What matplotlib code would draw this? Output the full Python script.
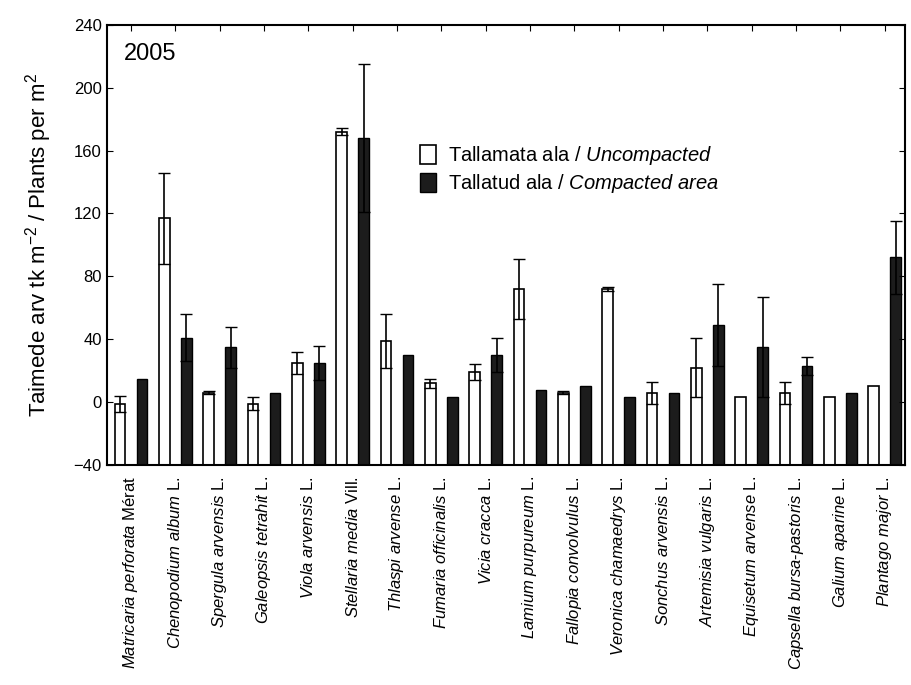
import matplotlib.pyplot as plt
import numpy as np

plt.rcParams['font.family'] = ['Liberation Sans', 'DejaVu Sans']
plt.rcParams['mathtext.fontset'] = 'custom'
plt.rcParams['mathtext.it'] = 'Liberation Sans:italic'
plt.rcParams['mathtext.rm'] = 'Liberation Sans'

# species names (italic part, authority)
species = [
    ("Matricaria perforata", "Mérat"),
    ("Chenopodium album", "L."),
    ("Spergula arvensis", "L."),
    ("Galeopsis tetrahit", "L."),
    ("Viola arvensis", "L."),
    ("Stellaria media", "Vill."),
    ("Thlaspi arvense", "L."),
    ("Fumaria officinalis", "L."),
    ("Vicia cracca", "L."),
    ("Lamium purpureum", "L."),
    ("Fallopia convolvulus", "L."),
    ("Veronica chamaedrys", "L."),
    ("Sonchus arvensis", "L."),
    ("Artemisia vulgaris", "L."),
    ("Equisetum arvense", "L."),
    ("Capsella bursa-pastoris", "L."),
    ("Galium aparine", "L."),
    ("Plantago major", "L."),
]

# plants per m2, uncompacted / compacted, with error values
uncompacted = [-1, 117, 6, -1, 25, 172, 39, 12, 19, 72, 6, 72, 6, 22, 3, 6, 3, 10]
uncompacted_err = [5, 29, 1, 4, 7, 2, 17, 3, 5, 19, 1, 1, 7, 19, 0, 7, 0, 0]
compacted = [15, 41, 35, 6, 25, 168, 30, 3, 30, 8, 10, 3, 6, 49, 35, 23, 6, 92]
compacted_err = [0, 15, 13, 0, 11, 47, 0, 0, 11, 0, 0, 0, 0, 26, 32, 6, 0, 23]

base = -40
x = np.arange(len(species))
off = 0.25
w = 0.24


def italic(s):
    # italic mathtext, keep hyphen as plain text
    parts = [r"$\it{" + p.replace(" ", r"\ ") + "}$" for p in s.split("-")]
    return "-".join(parts)


fig = plt.figure(figsize=(9.11, 6.85), dpi=100)
ax = fig.add_axes([0.117, 0.321, 0.876, 0.643])

unc = np.array(uncompacted)
cmp_ = np.array(compacted)
ax.bar(x - off, unc - base, bottom=base, width=w, color='white', edgecolor='black', linewidth=1.2)
ax.bar(x + off, cmp_ - base, bottom=base, width=w, color='#1c1c1c', edgecolor='black', linewidth=1.0)

ue = np.array(uncompacted_err)
ce = np.array(compacted_err)
m = ue > 0
ax.errorbar(x[m] - off, unc[m], yerr=ue[m], fmt='none', ecolor='black', elinewidth=1.2, capsize=4)
m = ce > 0
ax.errorbar(x[m] + off, cmp_[m], yerr=ce[m], fmt='none', ecolor='black', elinewidth=1.2, capsize=4)

ax.set_ylim(-40, 240)
ax.set_xlim(-0.55, len(species) - 0.55)
ax.set_yticks(np.arange(-40, 241, 40))
ax.tick_params(axis='y', direction='in', right=True, labelsize=12, length=4)
ax.tick_params(axis='x', direction='in', top=True, bottom=False, length=4)
ax.set_xticks(x)
ax.set_xticklabels([f"{italic(s)} {a}" for s, a in species],
                   rotation=90, fontsize=12, va='top', ha='center')
ax.tick_params(axis='x', pad=8)
for sp in ax.spines.values():
    sp.set_linewidth(1.5)

ax.set_ylabel("Taimede arv tk m$^{-2}$ / Plants per m$^{2}$", fontsize=16, labelpad=14)
ax.text(0.022, 0.92, "2005", transform=ax.transAxes, fontsize=17)

ax.legend([r"Tallamata ala / $\it{Uncompacted}$", r"Tallatud ala / $\it{Compacted\ area}$"],
          loc='upper left', bbox_to_anchor=(0.37, 0.77), frameon=False, fontsize=14.5,
          handlelength=0.8, handleheight=1.1, handletextpad=0.6, labelspacing=0.25)

fig.savefig("out.png", dpi=100)
